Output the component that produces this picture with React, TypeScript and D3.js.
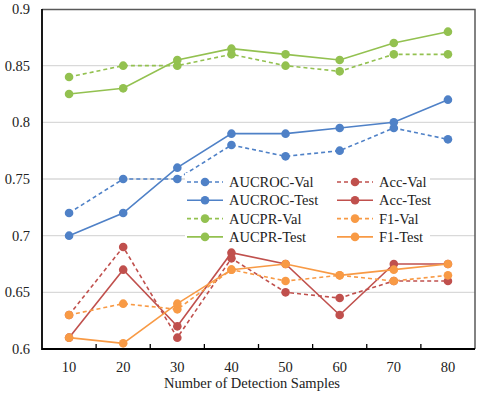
import React, { useEffect, useRef } from 'react';
import * as d3 from 'd3';

// chart data
const samples = ['10', '20', '30', '40', '50', '60', '70', '80'];
const aucrocVal = [0.72, 0.75, 0.75, 0.78, 0.77, 0.775, 0.795, 0.785];
const aucrocTest = [0.70, 0.72, 0.76, 0.79, 0.79, 0.795, 0.80, 0.82];
const aucprVal = [0.84, 0.85, 0.85, 0.86, 0.85, 0.845, 0.86, 0.86];
const aucprTest = [0.825, 0.83, 0.855, 0.865, 0.86, 0.855, 0.87, 0.88];
const accVal = [0.63, 0.69, 0.61, 0.68, 0.65, 0.645, 0.66, 0.66];
const accTest = [0.61, 0.67, 0.62, 0.685, 0.675, 0.63, 0.675, 0.675];
const f1Val = [0.63, 0.64, 0.635, 0.67, 0.66, 0.665, 0.66, 0.665];
const f1Test = [0.61, 0.605, 0.64, 0.67, 0.675, 0.665, 0.67, 0.675];
const yTicks = [0.6, 0.65, 0.7, 0.75, 0.8, 0.85, 0.9];

const BLUE = '#4f81c7';
const GREEN = '#93c150';
const RED = '#c0504d';
const ORANGE = '#f89a45';

const series = [
  { name: 'AUCROC-Val', values: aucrocVal, color: BLUE, dashed: true },
  { name: 'AUCROC-Test', values: aucrocTest, color: BLUE, dashed: false },
  { name: 'AUCPR-Val', values: aucprVal, color: GREEN, dashed: true },
  { name: 'AUCPR-Test', values: aucprTest, color: GREEN, dashed: false },
  { name: 'Acc-Val', values: accVal, color: RED, dashed: true },
  { name: 'Acc-Test', values: accTest, color: RED, dashed: false },
  { name: 'F1-Val', values: f1Val, color: ORANGE, dashed: true },
  { name: 'F1-Test', values: f1Test, color: ORANGE, dashed: false },
];

const FONT = "'Liberation Serif', 'DejaVu Serif', serif";
const FS = 14.5;

export default function App() {
  const svgRef = useRef<SVGSVGElement>(null);

  useEffect(() => {
    const width = 480;
    const height = 396;
    const margin = { top: 9, right: 5, bottom: 47, left: 42 };
    const innerW = width - margin.left - margin.right;
    const innerH = height - margin.top - margin.bottom;

    const svg = d3.select(svgRef.current);
    svg.selectAll('*').remove();
    svg.attr('width', width).attr('height', height).style('font-family', FONT);
    svg.append('rect').attr('width', width).attr('height', height).attr('fill', '#fff');

    const g = svg.append('g').attr('transform', `translate(${margin.left},${margin.top})`);

    const x = d3.scaleBand().domain(samples).range([0, innerW]);
    const y = d3.scaleLinear().domain([0.6, 0.9]).range([innerH, 0]);
    const cx = (d: string) => (x(d) as number) + x.bandwidth() / 2;

    // gridlines
    g.append('g').selectAll('line').data(yTicks.slice(1, -1)).join('line')
      .attr('x1', 0).attr('x2', innerW)
      .attr('y1', d => y(d)).attr('y2', d => y(d))
      .attr('stroke', '#d9d9d9').attr('stroke-width', 1.3);

    // frame (top/right)
    g.append('path')
      .attr('d', `M0,0.5H${innerW}V${innerH}`)
      .attr('fill', 'none').attr('stroke', '#595959').attr('stroke-width', 1.5);

    // y axis labels
    g.append('g').selectAll('text').data(yTicks).join('text')
      .attr('x', -12).attr('y', d => y(d)).attr('dy', '0.35em')
      .attr('text-anchor', 'end').attr('font-size', FS)
      .attr('fill', '#222').text(d => String(+d.toFixed(2)));

    // x axis: inside ticks between categories
    const xb = g.append('g').attr('transform', `translate(0,${innerH})`);
    xb.selectAll('line.tk').data(samples.slice(1)).join('line').attr('class', 'tk')
      .attr('x1', d => x(d) as number).attr('x2', d => x(d) as number)
      .attr('y1', 0).attr('y2', -5).attr('stroke', '#000').attr('stroke-width', 1.3);
    xb.selectAll('text').data(samples).join('text')
      .attr('x', d => cx(d)).attr('y', 23)
      .attr('text-anchor', 'middle').attr('font-size', FS)
      .attr('fill', '#222').text(d => d);

    // axis lines
    g.append('path').attr('d', `M0,0V${innerH}H${innerW}`)
      .attr('fill', 'none').attr('stroke', '#000').attr('stroke-width', 1.8);

    svg.append('text')
      .attr('x', 252).attr('y', 388).attr('text-anchor', 'middle')
      .attr('font-size', FS).attr('fill', '#222')
      .text('Number of Detection Samples');

    // lines + markers
    const line = d3.line<number>().x((_, i) => cx(samples[i])).y(d => y(d));
    series.forEach(s => {
      g.append('path').datum(s.values).attr('d', line)
        .attr('fill', 'none').attr('stroke', s.color).attr('stroke-width', 1.6)
        .attr('stroke-dasharray', s.dashed ? '4,3' : null);
      g.append('g').selectAll('circle').data(s.values).join('circle')
        .attr('cx', (_, i) => cx(samples[i])).attr('cy', d => y(d))
        .attr('r', 4.3).attr('fill', s.color);
    });

    // legend (2 columns x 4 rows) on a white box
    const legend = svg.append('g');
    legend.append('rect').attr('x', 185).attr('y', 173).attr('width', 245).attr('height', 73).attr('fill', '#fff');
    series.forEach((s, i) => {
      const col = i < 4 ? 0 : 1;
      const row = i % 4;
      const lx = col === 0 ? 187 : 337;
      const ly = 182 + row * 18.3;
      const item = legend.append('g').attr('transform', `translate(${lx},${ly})`);
      item.append('line').attr('x1', 0).attr('x2', 36).attr('y1', 0).attr('y2', 0)
        .attr('stroke', s.color).attr('stroke-width', 1.6)
        .attr('stroke-dasharray', s.dashed ? '4,3' : null);
      item.append('circle').attr('cx', 18).attr('cy', 0).attr('r', 4.3).attr('fill', s.color);
      item.append('text').attr('x', 42).attr('y', 0).attr('dy', '0.35em')
        .attr('font-size', FS).attr('fill', '#222').text(s.name);
    });
  }, []);

  return (
    <div style={{ position: 'absolute', left: 0, top: 0 }}>
      <svg ref={svgRef} style={{ display: 'block' }} />
    </div>
  );
}
